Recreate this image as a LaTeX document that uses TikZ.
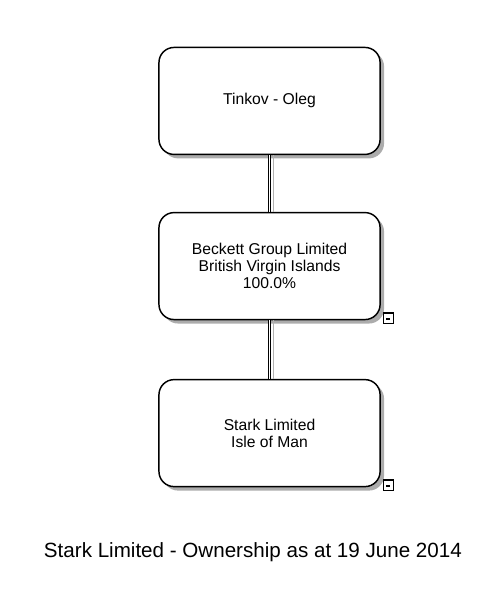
\documentclass[tikz,border=0pt]{standalone}
\usepackage{fontspec}
\setmainfont{Liberation Sans}
\usepackage{tikz}
\usetikzlibrary{positioning, shadows}

\begin{document}
\begin{tikzpicture}[
  node distance=1.5cm,
  entity/.style={draw, line width=1.1pt, rounded corners=0.4cm, align=center, fill=white,
    minimum width=5.85cm, minimum height=2.83cm, font=\fontsize{11.8}{13}\selectfont,
    drop shadow={shadow xshift=3pt, shadow yshift=-3pt, fill=gray!65, opacity=1}},
  link/.style={draw, line width=0.7pt, double=white, double distance=0.9pt},
  linkshadow/.style={draw=gray!60, line width=1pt},
  toggle/.style={draw, line width=0.9pt, fill=white, minimum size=0.27cm, inner sep=0pt,
    path picture={\draw[line width=1.1pt] ([xshift=-1.5pt, yshift=-0.8pt]path picture bounding box.center) -- ([xshift=1.5pt, yshift=-0.8pt]path picture bounding box.center);}}
]
\useasboundingbox (0,0) rectangle (13.23,-15.74);

\node[entity] (tinkov) at (7.13,-2.67) {Tinkov - Oleg};
\node[entity, below=of tinkov] (beckett) {Beckett Group Limited\\British Virgin Islands\\100.0\%};
\node[entity, below=1.55cm of beckett] (stark) {Stark Limited\\Isle of Man};

\node[toggle] (beckett-toggle) at ([xshift=0.2cm, yshift=0.06cm]beckett.south east) {};
\node[toggle] (stark-toggle) at ([xshift=0.2cm, yshift=0.06cm]stark.south east) {};

% ownership links
\draw[linkshadow] ([xshift=3pt]tinkov.south) -- ([xshift=3pt]beckett.north);
\draw[linkshadow] ([xshift=3pt]beckett.south) -- ([xshift=3pt]stark.north);
\draw[link] (tinkov) -- (beckett);
\draw[link] (beckett) -- (stark);

\node[font=\fontsize{15.5}{18}\selectfont] (caption) at (6.69,-14.6) {Stark Limited - Ownership as at 19 June 2014};
\end{tikzpicture}
\end{document}
